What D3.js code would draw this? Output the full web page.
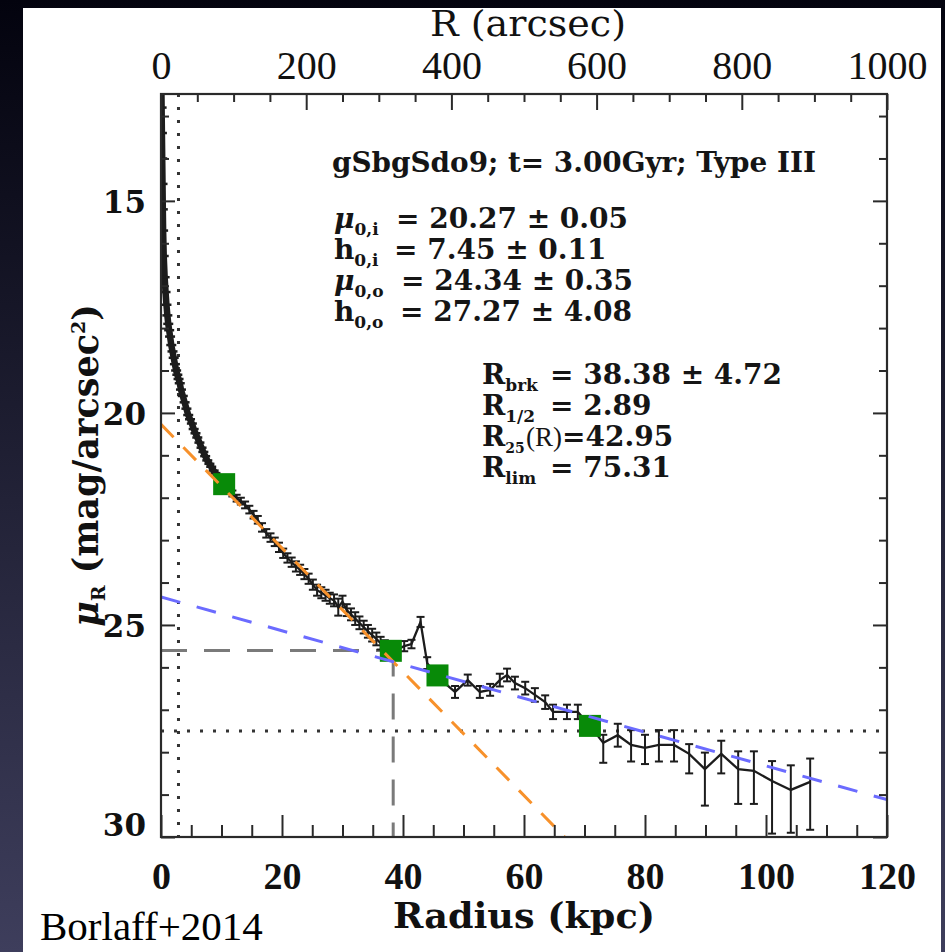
<!DOCTYPE html>
<html><head><meta charset="utf-8">
<script src="https://cdn.jsdelivr.net/npm/d3@7"></script>
<style>html,body{margin:0;padding:0;background:#000;}svg{display:block;}</style>
</head><body>
<svg id="chart" width="945" height="952"></svg>
<script>
// ---------- data ----------
// inner, densely sampled part of the profile (drawn as a thick band)
const innerR = [
0.05,0.10,0.15,0.20,0.25,0.30,0.35,0.45,0.6,0.75,0.9,1.05,1.2,1.35,1.5,1.7,1.9,2.1,2.3,2.5,
2.7,2.9,3.1,3.3,3.6,3.9,4.2,4.5,4.8,5.1,5.4,5.7,6.0,6.35,6.7,7.0,7.3,7.65,8.0,8.3,8.7,9.0,9.4,9.8,10.4];
const innerMu = [
12.2,12.8,13.4,14.0,14.6,15.2,15.7,16.3,16.8,17.15,17.45,17.7,17.9,18.05,18.2,18.4,18.55,18.7,18.85,19.0,
19.1,19.2,19.3,19.45,19.6,19.75,19.9,20.05,20.15,20.25,20.38,20.48,20.58,20.7,20.82,20.92,21.02,21.12,21.2,21.27,21.36,21.42,21.5,21.58,21.68];

// outer part of the profile, with asymmetric error bars (mag)
const radiusKpc = [
10.4,11.0,11.8,12.5,13.2,13.9,14.6,15.3,16.0,16.7,17.4,18.1,18.8,19.5,20.2,20.9,21.6,22.3,23.0,23.7,
24.4,25.1,25.8,26.5,27.2,27.9,28.6,29.3,30.0,30.7,31.4,32.1,32.8,33.5,34.2,34.9,35.6,36.3,37.0,38.2,
40.2,41.4,42.9,44.0,45.9,48.6,50.7,52.7,54.4,56.0,57.2,58.5,60.2,61.8,63.5,64.8,67.1,68.9,70.9,
73.1,75.5,77.7,80.0,82.3,84.8,87.3,89.9,92.6,95.4,98.0,101.0,104.1,107.3];
const muR = [
21.68,21.78,21.9,22.01,22.08,22.17,22.28,22.4,22.52,22.7,22.84,22.94,23.04,23.17,23.31,23.42,23.52,23.62,23.7,23.8,
23.91,24.05,24.18,24.24,24.3,24.37,24.42,24.58,24.45,24.65,24.75,24.85,24.95,25.05,25.15,25.24,25.33,25.43,25.52,25.63,
25.5,25.45,24.93,25.9,26.25,26.58,26.3,26.58,26.53,26.3,26.18,26.37,26.49,26.65,26.82,27.05,27.05,27.05,27.38,
27.78,27.6,27.83,27.9,27.83,27.83,28.04,28.4,28.04,28.4,28.44,28.68,28.89,28.7];
const errUp = [
0.06,0.07,0.07,0.08,0.08,0.08,0.09,0.09,0.09,0.1,0.1,0.1,0.1,0.11,0.11,0.11,0.11,0.12,0.12,0.12,
0.12,0.12,0.13,0.13,0.13,0.13,0.14,0.2,0.14,0.14,0.14,0.15,0.15,0.15,0.15,0.15,0.15,0.15,0.16,0.16,
0.12,0.1,0.12,0.14,0.14,0.14,0.13,0.14,0.14,0.15,0.15,0.15,0.15,0.16,0.16,0.17,0.17,0.17,0.18,
0.19,0.27,0.35,0.31,0.35,0.35,0.23,0.39,0.31,0.42,0.46,0.47,0.58,0.55];
const errDown = [
0.06,0.07,0.07,0.08,0.08,0.08,0.09,0.09,0.09,0.1,0.1,0.1,0.1,0.11,0.11,0.11,0.11,0.12,0.12,0.12,
0.12,0.12,0.13,0.13,0.13,0.13,0.14,0.2,0.14,0.14,0.14,0.15,0.15,0.15,0.15,0.15,0.15,0.15,0.16,0.16,
0.12,0.1,0.12,0.14,0.14,0.14,0.13,0.14,0.14,0.15,0.15,0.15,0.15,0.16,0.16,0.17,0.17,0.17,0.18,
0.47,0.27,0.39,0.38,0.39,0.39,0.46,0.86,0.46,0.82,0.78,1.24,1.01,1.13];

const markerR  = [10.44, 37.99, 45.7, 70.9];
const markerMu = [21.68, 25.61, 26.19, 27.38];

const innerFitR  = [0, 66.7];   const innerFitMu = [20.27, 30];
const outerFitR  = [0, 120];    const outerFitMu = [24.34, 29.12];
const breakR = 38.38, breakMu = 25.6;
const halfLightR = 2.89, limitMu = 27.5;

const xMajorTicks = [0,20,40,60,80,100,120];
const xMinorTicks = [5,10,15,25,30,35,45,50,55,65,70,75,85,90,95,105,110,115];
const arcMajorTicks = [0,200,400,600,800,1000];
const arcMinorTicks = [50,100,150,250,300,350,450,500,550,650,700,750,850,900,950];
const yMajorTicks = [15,20,25,30];
const yMinorTicks = [13,14,16,17,18,19,21,22,23,24,26,27,28,29];

const titleText = "gSbgSdo9; t= 3.00Gyr; Type III";
const upperSymbols = ["μ","h","μ","h"];
const upperSubs = ["0,i","0,i","0,o","0,o"];
const upperValues = ["= 20.27 ± 0.05","= 7.45 ± 0.11","= 24.34 ± 0.35","= 27.27 ± 4.08"];
const lowerSubs = ["brk","1/2","25","lim"];
const lowerValues = ["= 38.38 ± 4.72","= 2.89","=42.95","= 75.31"];

// ---------- layout ----------
const W = 945, H = 952;
const m = {l:161, r:887, t:94, b:837};
const svg = d3.select("#chart");
const defs = svg.append("defs");
const grad = defs.append("linearGradient").attr("id","bg").attr("x1",0).attr("y1",0).attr("x2",0).attr("y2",1);
grad.append("stop").attr("offset","0%").attr("stop-color","#03030e");
grad.append("stop").attr("offset","100%").attr("stop-color","#3e3e5c");
defs.append("clipPath").attr("id","plotclip").append("rect")
  .attr("x",m.l).attr("y",m.t).attr("width",m.r-m.l).attr("height",m.b-m.t);

svg.append("rect").attr("width",W).attr("height",H).attr("fill","url(#bg)");
svg.append("rect").attr("x",23).attr("y",8).attr("width",918).attr("height",H-8).attr("fill","#fff");

const x = d3.scaleLinear().domain([0,120]).range([m.l,m.r]);
const xArc = d3.scaleLinear().domain([0,1000]).range([m.l,m.r]);
const y = d3.scaleLinear().domain([12.48,30]).range([m.t,m.b]);

const ink = "#1c1c1c";
const plot = svg.append("g").attr("clip-path","url(#plotclip)");

// dotted reference lines
plot.append("line").attr("x1",x(halfLightR)).attr("x2",x(halfLightR)).attr("y1",m.t).attr("y2",m.b)
  .attr("stroke","#333").attr("stroke-width",3).attr("stroke-dasharray","3,10");
plot.append("line").attr("x1",m.l).attr("x2",m.r).attr("y1",y(limitMu)).attr("y2",y(limitMu))
  .attr("stroke","#333").attr("stroke-width",3).attr("stroke-dasharray","3,10");

// break dashed lines (grey)
plot.append("line").attr("x1",x(0)).attr("x2",x(breakR)).attr("y1",y(breakMu)).attr("y2",y(breakMu))
  .attr("stroke","#7a7a7a").attr("stroke-width",3).attr("stroke-dasharray","26,17");
plot.append("line").attr("x1",x(breakR)).attr("x2",x(breakR)).attr("y1",y(breakMu)).attr("y2",m.b)
  .attr("stroke","#7a7a7a").attr("stroke-width",3).attr("stroke-dasharray","26,17");

// inner dense profile: thick band of overlapping points
const inner = innerR.map((r,i)=>({r, mu:innerMu[i]}));
const lineGen = d3.line().x(d=>x(d.r)).y(d=>y(d.mu));
plot.append("path").datum(inner).attr("fill","none").attr("stroke",ink).attr("stroke-width",6.5)
  .attr("stroke-linejoin","round").attr("d",lineGen);
plot.append("g").attr("stroke",ink).attr("stroke-width",2.5).selectAll("line").data(inner).join("line")
  .attr("x1",d=>x(d.r)-5).attr("x2",d=>x(d.r)+5).attr("y1",d=>y(d.mu)).attr("y2",d=>y(d.mu));

// outer profile with error bars
const pts = radiusKpc.map((r,i)=>({r, mu:muR[i], up:errUp[i], dn:errDown[i]}));
const eb = plot.append("g").attr("stroke",ink).attr("stroke-width",2);
eb.selectAll("line.v").data(pts).join("line").attr("class","v")
  .attr("x1",d=>x(d.r)).attr("x2",d=>x(d.r)).attr("y1",d=>y(d.mu-d.up)).attr("y2",d=>y(d.mu+d.dn));
eb.selectAll("line.t").data(pts).join("line").attr("class","t")
  .attr("x1",d=>x(d.r)-4).attr("x2",d=>x(d.r)+4).attr("y1",d=>y(d.mu-d.up)).attr("y2",d=>y(d.mu-d.up));
eb.selectAll("line.b").data(pts).join("line").attr("class","b")
  .attr("x1",d=>x(d.r)-4).attr("x2",d=>x(d.r)+4).attr("y1",d=>y(d.mu+d.dn)).attr("y2",d=>y(d.mu+d.dn));
plot.append("path").datum(pts).attr("fill","none").attr("stroke",ink).attr("stroke-width",2.3)
  .attr("d",lineGen);

// green markers
const sq = 22;
plot.selectAll("rect.mk").data(markerR.map((r,i)=>({r,mu:markerMu[i]}))).join("rect").attr("class","mk")
  .attr("x",d=>x(d.r)-sq/2).attr("y",d=>y(d.mu)-sq/2).attr("width",sq).attr("height",sq).attr("fill","#088a08");

// fits
const fitLine = d3.line().x(d=>x(d[0])).y(d=>y(d[1]));
plot.append("path").datum(innerFitR.map((r,i)=>[r,innerFitMu[i]])).attr("d",fitLine)
  .attr("fill","none").attr("stroke","#f7912b").attr("stroke-width",3).attr("stroke-dasharray","18,14");
plot.append("path").datum(outerFitR.map((r,i)=>[r,outerFitMu[i]])).attr("d",fitLine)
  .attr("fill","none").attr("stroke","#6b6bff").attr("stroke-width",3).attr("stroke-dasharray","20,17");

// frame
svg.append("rect").attr("x",m.l).attr("y",m.t).attr("width",m.r-m.l).attr("height",m.b-m.t)
  .attr("fill","none").attr("stroke","#2a2a2a").attr("stroke-width",2.2);

// axes
function clean(g){ g.select(".domain").remove(); g.selectAll(".tick line").attr("stroke","#2a2a2a").attr("stroke-width",2); }
svg.append("g").attr("transform",`translate(0,${m.b})`)
  .call(d3.axisBottom(x).tickValues(xMinorTicks).tickSize(-12).tickFormat("")).call(clean);
const bx = svg.append("g").attr("transform",`translate(0,${m.b})`)
  .call(d3.axisBottom(x).tickValues(xMajorTicks).tickSize(-22).tickPadding(25).tickFormat(d3.format("d"))).call(clean);
bx.selectAll("text").attr("font-family","Liberation Serif").attr("font-weight","bold").attr("font-size",38).attr("fill","#111");

svg.append("g").attr("transform",`translate(0,${m.t})`)
  .call(d3.axisTop(xArc).tickValues(arcMinorTicks).tickSize(-8).tickFormat("")).call(clean);
const tx = svg.append("g").attr("transform",`translate(0,${m.t})`)
  .call(d3.axisTop(xArc).tickValues(arcMajorTicks).tickSize(-16).tickPadding(15).tickFormat(d3.format("d"))).call(clean);
tx.selectAll("text").attr("font-family","Liberation Serif").attr("font-size",40).attr("fill","#111");

svg.append("g").attr("transform",`translate(${m.l},0)`)
  .call(d3.axisLeft(y).tickValues(yMinorTicks).tickSize(-8).tickFormat("")).call(clean);
const ly = svg.append("g").attr("transform",`translate(${m.l},0)`)
  .call(d3.axisLeft(y).tickValues(yMajorTicks).tickSize(-14).tickPadding(15).tickFormat(d3.format("d"))).call(clean);
ly.selectAll("text").attr("font-family","DejaVu Serif").attr("font-weight","bold").attr("font-size",31).attr("fill","#111")
  .attr("dy",d=>d===30?"-0.05em":"0.36em");

svg.append("g").attr("transform",`translate(${m.r},0)`)
  .call(d3.axisRight(y).tickValues(yMinorTicks).tickSize(-8).tickFormat("")).call(clean);
svg.append("g").attr("transform",`translate(${m.r},0)`)
  .call(d3.axisRight(y).tickValues(yMajorTicks).tickSize(-14).tickFormat("")).call(clean);

// axis titles
svg.append("text").attr("x",(m.l+m.r)/2+4).attr("y",36).attr("text-anchor","middle")
  .attr("font-family","DejaVu Serif").attr("font-size",35).attr("fill","#111")
  .attr("textLength",196).attr("lengthAdjust","spacingAndGlyphs").text("R (arcsec)");
svg.append("text").attr("x",(m.l+m.r)/2).attr("y",928).attr("text-anchor","middle")
  .attr("font-family","DejaVu Serif").attr("font-weight","bold").attr("font-size",36).attr("fill","#111")
  .attr("textLength",262).attr("lengthAdjust","spacingAndGlyphs").text("Radius (kpc)");
const yl = svg.append("text").attr("transform",`translate(98,${(m.t+m.b)/2}) rotate(-90)`).attr("text-anchor","middle")
  .attr("font-family","DejaVu Serif").attr("font-weight","bold").attr("font-size",35).attr("fill","#111");
yl.append("tspan").attr("font-style","italic").text("μ");
yl.append("tspan").attr("font-size",19).attr("dy",7).text("R");
yl.append("tspan").attr("dy",-7).text(" (mag/arcsec");
yl.append("tspan").attr("font-size",19).attr("dy",-13).text("2");
yl.append("tspan").attr("dy",13).text(")");

// credit
svg.append("text").attr("x",40).attr("y",940).attr("font-family","Liberation Serif").attr("font-size",41)
  .attr("fill","#000").text("Borlaff+2014");

// text block
const tb = svg.append("g").attr("font-family","DejaVu Serif").attr("font-weight","bold").attr("font-size",28).attr("fill","#151515");
tb.append("text").attr("x",332).attr("y",172).attr("textLength",484).attr("lengthAdjust","spacingAndGlyphs").text(titleText);
const upperBase = [228,259,290,321];
const upperEqX = [396,394,401,400];
upperSymbols.forEach((s,i)=>{
  const t = tb.append("text").attr("x",334).attr("y",upperBase[i]);
  t.append("tspan").attr("font-style", s==="μ"?"italic":"normal").text(s);
  t.append("tspan").attr("font-size",17).attr("dy",7).text(upperSubs[i]);
  tb.append("text").attr("x",upperEqX[i]).attr("y",upperBase[i]).text(upperValues[i]);
});
const lowerBase = [384,415,446,477];
lowerSubs.forEach((s,i)=>{
  const t = tb.append("text").attr("x",482).attr("y",lowerBase[i]);
  t.append("tspan").text("R");
  t.append("tspan").attr("font-size", s==="25"?14:17).attr("dy",7).text(s);
  let eqX = 550;
  if (s==="25") {
    tb.append("text").attr("x",526).attr("y",lowerBase[i]).attr("font-family","Liberation Serif")
      .attr("font-weight","normal").attr("font-size",27).text("(R)");
    eqX = 562;
  }
  tb.append("text").attr("x",eqX).attr("y",lowerBase[i]).text(lowerValues[i]);
});
</script>
</body></html>
